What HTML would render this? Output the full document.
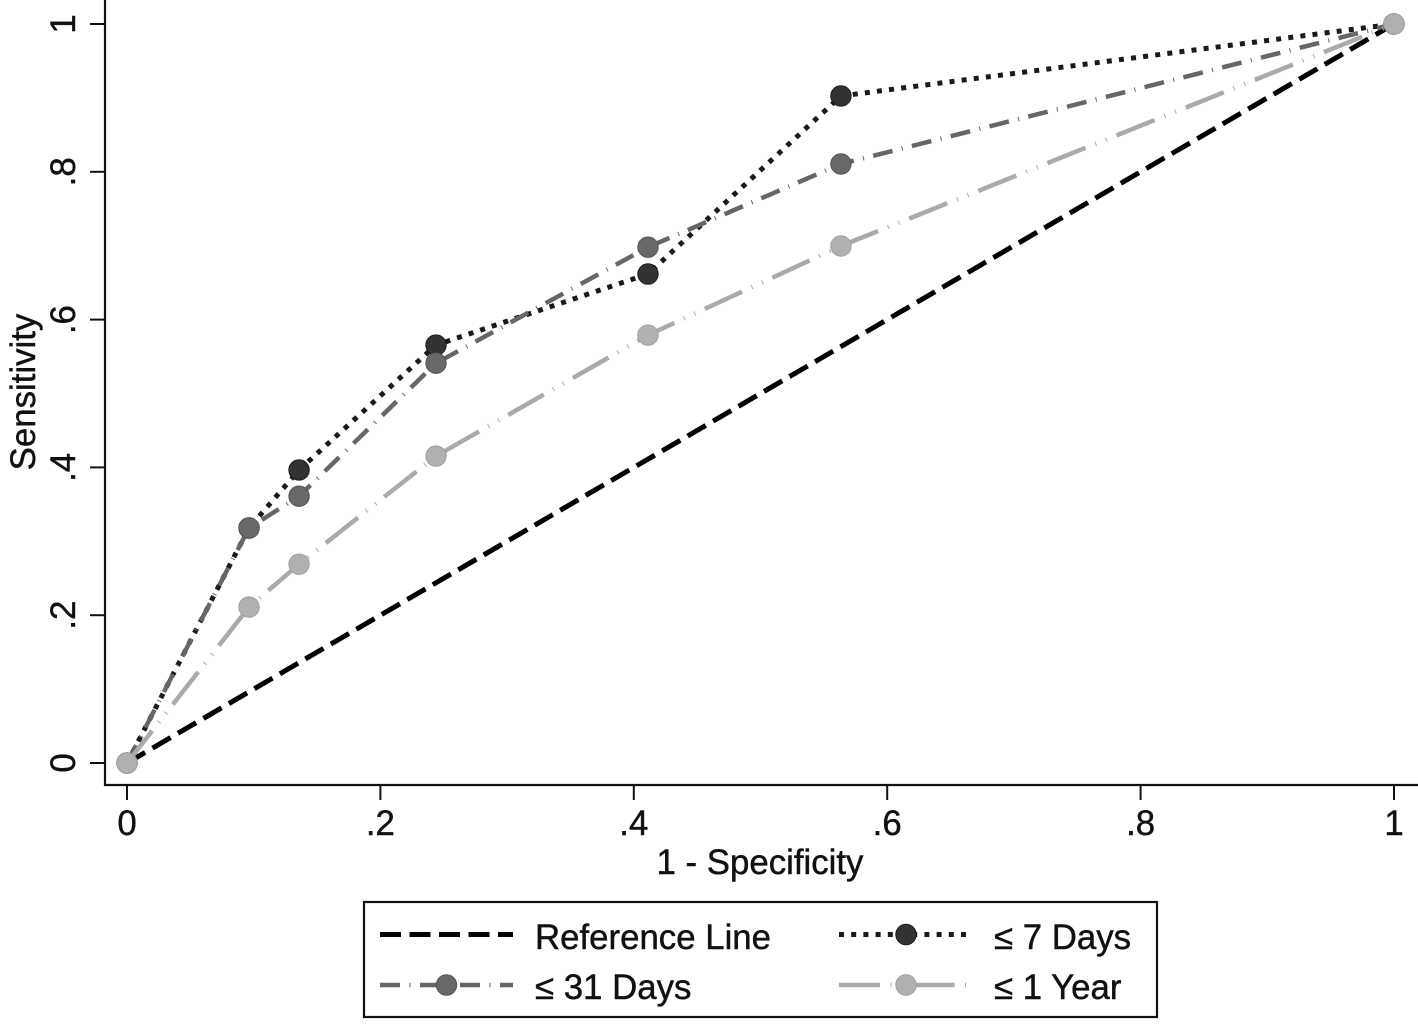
<!DOCTYPE html>
<html>
<head>
<meta charset="utf-8">
<title>ROC curves</title>
<style>
html,body{margin:0;padding:0;background:#fff;width:1418px;height:1031px;overflow:hidden}
svg{display:block}
text{font-family:"Liberation Sans",sans-serif;font-size:34.8px;fill:#111;stroke:#111;stroke-width:.45px}
</style>
</head>
<body>
<svg id="chart" xmlns="http://www.w3.org/2000/svg" width="1418" height="1031" viewBox="0 0 1418 1031"></svg>
<script>
const xTickValues = [0, 0.2, 0.4, 0.6, 0.8, 1];
const xTickLabels = ['0', '.2', '.4', '.6', '.8', '1'];
const yTickValues = [0, 0.2, 0.4, 0.6, 0.8, 1];
const yTickLabels = ['0', '.2', '.4', '.6', '.8', '1'];
const referenceX = [0, 1];
const referenceY = [0, 1];
const cutpointX = [0, 0.0963, 0.1358, 0.2439, 0.4112, 0.5635, 1];
const days7Y = [0, 0.318, 0.3965, 0.5656, 0.6617, 0.9026, 1];
const days31Y = [0, 0.318, 0.361, 0.541, 0.698, 0.8106, 1];
const year1Y = [0, 0.211, 0.269, 0.4154, 0.579, 0.6996, 1];

const NS = 'http://www.w3.org/2000/svg';
const svg = document.getElementById('chart');
const xScale = v => 127 + v * 1267;
const yScale = v => 763 - v * 739;

function make(tag, attrs, parent, text) {
  const el = document.createElementNS(NS, tag);
  for (const k in attrs) el.setAttribute(k, attrs[k]);
  if (text !== undefined) el.textContent = text;
  (parent || svg).appendChild(el);
  return el;
}

const styleReference = { stroke: '#000', width: 5, dash: '21 8.5', fill: 'none', edge: 'none' };
const style7 = { stroke: '#1a1a1a', width: 5, dash: '5 7.2', fill: '#333333', edge: '#1c1c1c' };
const style31 = { stroke: '#666', width: 4.5, dash: '20 9.5 1 9.5', fill: '#686868', edge: '#555555' };
const style1y = { stroke: '#aaa', width: 4.5, dash: '41 10.5 1 10.5 1 10.5', fill: '#b0b0b0', edge: '#a0a0a0' };

// axes
const axisY = make('line', { x1: 105, y1: 0, x2: 105, y2: 786, stroke: '#111', 'stroke-width': 2.2 });


const axisX = make('line', { x1: 104, y1: 785, x2: 1418, y2: 785, stroke: '#111', 'stroke-width': 2.2 });



xTickValues.forEach((v, i) => {
  const t = make('line', { x1: xScale(v), y1: 785, x2: xScale(v), y2: 800, stroke: '#111', 'stroke-width': 2 });
  
  
  const l = make('text', { x: xScale(v), y: 835, 'text-anchor': 'middle' }, svg, xTickLabels[i]);
  
  
});
yTickValues.forEach((v, i) => {
  const t = make('line', { x1: 90, y1: yScale(v), x2: 105, y2: yScale(v), stroke: '#111', 'stroke-width': 2 });
  
  
  const l = make('text', { x: 0, y: 0, 'text-anchor': 'middle', transform: 'translate(75 ' + yScale(v) + ') rotate(-90)' }, svg, yTickLabels[i]);
  
  
});

const xTitle = make('text', { x: 760, y: 874, 'text-anchor': 'middle' }, svg, '1 - Specificity');


const yTitle = make('text', { x: 0, y: 0, 'text-anchor': 'middle', transform: 'translate(35 392) rotate(-90)' }, svg, 'Sensitivity');



function drawLine(xs, ys, st, parent) {
  const pts = xs.map((x, i) => xScale(x) + ',' + yScale(ys[i])).join(' ');
  return make('polyline', { points: pts, fill: 'none', stroke: st.stroke, 'stroke-width': st.width, 'stroke-dasharray': st.dash, 'stroke-linejoin': 'miter' }, parent);
}
function drawPoint(x, y, st, parent) {
  return make('circle', { cx: xScale(x), cy: yScale(y), r: 10.2, fill: st.fill, stroke: st.edge, 'stroke-width': 1 }, parent);
}

// reference line
const refGroup = make('g', {});


drawLine(referenceX, referenceY, styleReference, refGroup);

// 7 days
const g7 = make('g', {});


drawLine(cutpointX, days7Y, style7, g7);
cutpointX.forEach((x, i) => drawPoint(x, days7Y[i], style7, g7));

// 31 days
const g31 = make('g', {});


drawLine(cutpointX, days31Y, style31, g31);
cutpointX.forEach((x, i) => drawPoint(x, days31Y[i], style31, g31));

// 1 year
const g1y = make('g', {});


drawLine(cutpointX, year1Y, style1y, g1y);
cutpointX.forEach((x, i) => drawPoint(x, year1Y[i], style1y, g1y));

// legend
const legend = make('g', {});


const legendBox = make('rect', { x: 364, y: 902, width: 793, height: 115, fill: '#fff', stroke: '#111', 'stroke-width': 2.2 }, legend);



function legendEntry(x1, x2, y, tx, ty, label, st, marker, name) {
  const g = make('g', {}, legend);
  
  
  make('line', { x1: x1, y1: y, x2: x2, y2: y, stroke: st.stroke, 'stroke-width': st.width, 'stroke-dasharray': st.dash }, g);
  if (marker) make('circle', { cx: (x1 + x2) / 2 + (x1 > 600 ? 2 : 0), cy: y, r: 10.2, fill: st.fill, stroke: st.edge, 'stroke-width': 1 }, g);
  make('text', { x: tx, y: ty }, g, label);
}
legendEntry(380, 513, 934.5, 535, 949, 'Reference Line', styleReference, false, 'legend-entry-reference-line');
legendEntry(839, 969, 934.5, 994, 949, '≤ 7 Days', style7, true, 'legend-entry-7-days');
legendEntry(380, 513, 985, 535, 999, '≤ 31 Days', style31, true, 'legend-entry-31-days');
legendEntry(839, 969, 985, 994, 999, '≤ 1 Year', style1y, true, 'legend-entry-1-year');
</script>
</body>
</html>
